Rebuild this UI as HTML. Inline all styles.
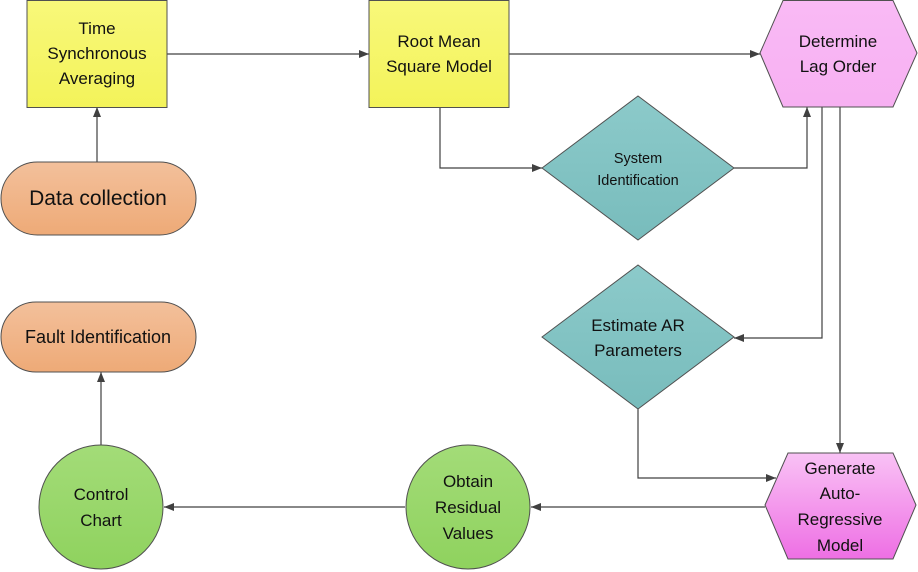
<!DOCTYPE html>
<html><head><meta charset="utf-8"><style>
html,body{margin:0;padding:0;background:#fff;width:918px;height:572px;overflow:hidden}
svg text{font-family:"Liberation Sans",sans-serif;fill:#111;text-anchor:middle}
</style></head><body>
<svg width="918" height="572" viewBox="0 0 918 572" xmlns="http://www.w3.org/2000/svg">
<defs>
<linearGradient id="y" x1="0" y1="0" x2="0" y2="1"><stop offset="0" stop-color="#f8f87a"/><stop offset="1" stop-color="#f3f35a"/></linearGradient>
<linearGradient id="o" x1="0" y1="0" x2="0" y2="1"><stop offset="0" stop-color="#f3c09b"/><stop offset="1" stop-color="#eeaa77"/></linearGradient>
<linearGradient id="t" x1="0" y1="0" x2="0" y2="1"><stop offset="0" stop-color="#8ccaca"/><stop offset="1" stop-color="#78bcbc"/></linearGradient>
<linearGradient id="g" x1="0" y1="0" x2="0" y2="1"><stop offset="0" stop-color="#a3dc78"/><stop offset="1" stop-color="#8fd25e"/></linearGradient>
<linearGradient id="p" x1="0" y1="0" x2="0" y2="1"><stop offset="0" stop-color="#f9baf5"/><stop offset="1" stop-color="#f7b0f2"/></linearGradient>
<linearGradient id="m" x1="0" y1="0" x2="0" y2="1"><stop offset="0" stop-color="#f9c2f5"/><stop offset="1" stop-color="#ee6fe4"/></linearGradient>
<marker id="a" markerWidth="10" markerHeight="8" refX="10" refY="4" orient="auto" markerUnits="userSpaceOnUse"><path d="M0,0 L10,4 L0,8 Z" fill="#404040"/></marker>
</defs>
<g stroke="#404040" stroke-width="1.2" fill="none">
<line x1="167" y1="54" x2="369" y2="54" marker-end="url(#a)"/>
<line x1="509" y1="54" x2="760" y2="54" marker-end="url(#a)"/>
<polyline points="440,107 440,168 542,168" marker-end="url(#a)"/>
<polyline points="734,168 807,168 807,107" marker-end="url(#a)"/>
<line x1="97" y1="162" x2="97" y2="107" marker-end="url(#a)"/>
<polyline points="822,107 822,338 734,338" marker-end="url(#a)"/>
<line x1="840" y1="107" x2="840" y2="453" marker-end="url(#a)"/>
<polyline points="638,409 638,478 776,478" marker-end="url(#a)"/>
<line x1="765" y1="507" x2="531" y2="507" marker-end="url(#a)"/>
<line x1="405" y1="507" x2="164" y2="507" marker-end="url(#a)"/>
<line x1="101" y1="445" x2="101" y2="372" marker-end="url(#a)"/>
</g>
<g stroke="#505050" stroke-width="1">
<rect x="27" y="0.5" width="140" height="107" fill="url(#y)"/>
<rect x="369" y="0.5" width="140" height="107" fill="url(#y)"/>
<rect x="1" y="162" width="195" height="73" rx="36.5" fill="url(#o)"/>
<rect x="1" y="302" width="195" height="70" rx="35" fill="url(#o)"/>
<polygon points="542,168 638,96 734,168 638,240" fill="url(#t)"/>
<polygon points="542,337 638,265 734,337 638,409" fill="url(#t)"/>
<circle cx="101" cy="507" r="62" fill="url(#g)"/>
<circle cx="468" cy="507" r="62" fill="url(#g)"/>
<polygon points="760,53 783,0.5 893,0.5 917,53 893,107 783,107" fill="url(#p)"/>
<polygon points="765,505 788,453 893,453 916,505 893,559 788,559" fill="url(#m)"/>
</g>
<g font-size="17">
<text x="97" y="34">Time</text><text x="97" y="59">Synchronous</text><text x="97" y="84">Averaging</text>
<text x="439" y="47">Root Mean</text><text x="439" y="72">Square Model</text>
<text x="838" y="47">Determine</text><text x="838" y="72">Lag Order</text>
<text x="638" y="331">Estimate AR</text><text x="638" y="356">Parameters</text>
<text x="101" y="500">Control</text><text x="101" y="526">Chart</text>
<text x="468" y="487">Obtain</text><text x="468" y="513">Residual</text><text x="468" y="539">Values</text>
<text x="840" y="474">Generate</text><text x="840" y="499">Auto-</text><text x="840" y="525">Regressive</text><text x="840" y="551">Model</text>
<text x="98" y="343" font-size="18">Fault Identification</text>
</g>
<text x="98" y="205" font-size="21">Data collection</text>
<text x="638" y="163" font-size="14.5">System</text>
<text x="638" y="185" font-size="14.5">Identification</text>
</svg>
</body></html>
